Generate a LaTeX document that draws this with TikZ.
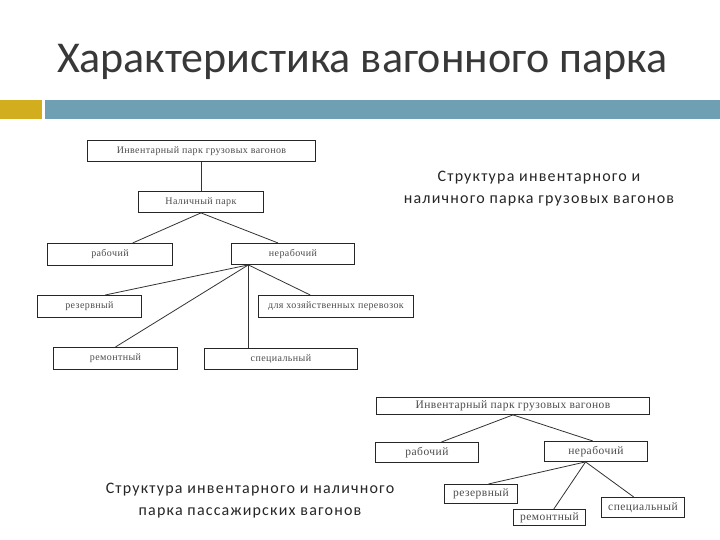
\documentclass[tikz,border=0pt]{standalone}
\usepackage{fontspec}
\setmainfont{Liberation Serif}
\newfontfamily\calib{Carlito}
\newfontfamily\calibsp[LetterSpace=7.5]{Carlito}
\newfontfamily\serifsp[LetterSpace=4]{Liberation Serif}
\usetikzlibrary{calc}
\definecolor{baryellow}{HTML}{D2AD1E}
\definecolor{barteal}{HTML}{6F9FB3}
\definecolor{titlegray}{HTML}{383838}
\tikzset{
  bx/.style={draw=black!85, line width=0.9pt, inner sep=0pt, anchor=north west,
    font=\serifsp\fontsize{10}{11}\selectfont, text=black!70},
  bxb/.style={bx, font=\serifsp\fontsize{11.5}{13}\selectfont},
  ln/.style={draw=black!80, line width=0.8pt},
  capt/.style={font=\calibsp\fontsize{16}{22}\selectfont, text=black!85, align=center}
}
\begin{document}
\begin{tikzpicture}[x=1pt,y=-1pt]
\useasboundingbox (0,0) rectangle (720,540);
\fill[white] (0,0) rectangle (720,540);
% title and bars
\node[anchor=base west, inner sep=0pt, text=titlegray, font=\calib\fontsize{44}{50}\selectfont] (title) at (57,73) {Характеристика вагонного парка};
\fill[baryellow] (0,100) rectangle (42,119);
\fill[barteal] (45,100) rectangle (720,119);
% upper diagram
\node[bx, minimum width=228, minimum height=21] (top) at (87,140) {Инвентарный парк грузовых вагонов};
\node[bx, minimum width=125, minimum height=21] (nal) at (138,191) {Наличный парк};
\node[bx, minimum width=125, minimum height=22] (rab) at (47,243) {рабочий};
\node[bx, minimum width=123, minimum height=21] (nerab) at (231,243) {нерабочий};
\node[bx, minimum width=104, minimum height=22] (rez) at (37,295) {резервный};
\node[bx, minimum width=155, minimum height=22] (hoz) at (258,295) {для хозяйственных перевозок};
\node[bx, minimum width=124, minimum height=22] (rem) at (53,347) {ремонтный};
\node[bx, minimum width=153, minimum height=21] (spec) at (204,348) {специальный};
\draw[ln] (top.south) -- (top.south |- nal.north);
\draw[ln] (nal.south) -- ($(rab.north west)!0.68!(rab.north east)$);
\draw[ln] (nal.south) -- ($(nerab.north west)!0.38!(nerab.north east)$);
\coordinate (nb) at ($(nerab.south west)!0.14!(nerab.south east)$);
\draw[ln] (nb) -- ($(rez.north west)!0.65!(rez.north east)$);
\draw[ln] (nb) -- (rem.north);
\draw[ln] (nb) -- (nb |- spec.north);
\draw[ln] (nb) -- ($(hoz.north west)!0.335!(hoz.north east)$);
% caption 1
\node[capt] (cap1) at (539,189) {Структура инвентарного и\\наличного парка грузовых вагонов};
% lower diagram
\node[bxb, minimum width=273, minimum height=17] (top2) at (376,397) {Инвентарный парк грузовых вагонов};
\node[bxb, minimum width=103, minimum height=20] (rab2) at (375,442) {рабочий};
\node[bxb, minimum width=103, minimum height=20] (nerab2) at (544,441) {нерабочий};
\node[bxb, minimum width=73, minimum height=19] (rez2) at (444,484) {резервный};
\node[bxb, minimum width=72, minimum height=16] (rem2) at (513,509) {ремонтный};
\node[bxb, minimum width=83, minimum height=20] (spec2) at (601,497) {специальный};
\draw[ln] (top2.south) -- ($(rab2.north west)!0.64!(rab2.north east)$);
\draw[ln] (top2.south) -- ($(nerab2.north west)!0.47!(nerab2.north east)$);
\coordinate (nb2) at ($(nerab2.south west)!0.40!(nerab2.south east)$);
\draw[ln] (nb2) -- ($(rez2.north west)!0.6!(rez2.north east)$);
\draw[ln] (nb2) -- ($(rem2.north west)!0.56!(rem2.north east)$);
\draw[ln] (nb2) -- ($(spec2.north west)!0.39!(spec2.north east)$);
% caption 2
\node[capt] (cap2) at (250,501) {Структура инвентарного и наличного\\парка пассажирских вагонов};
\end{tikzpicture}
\end{document}
